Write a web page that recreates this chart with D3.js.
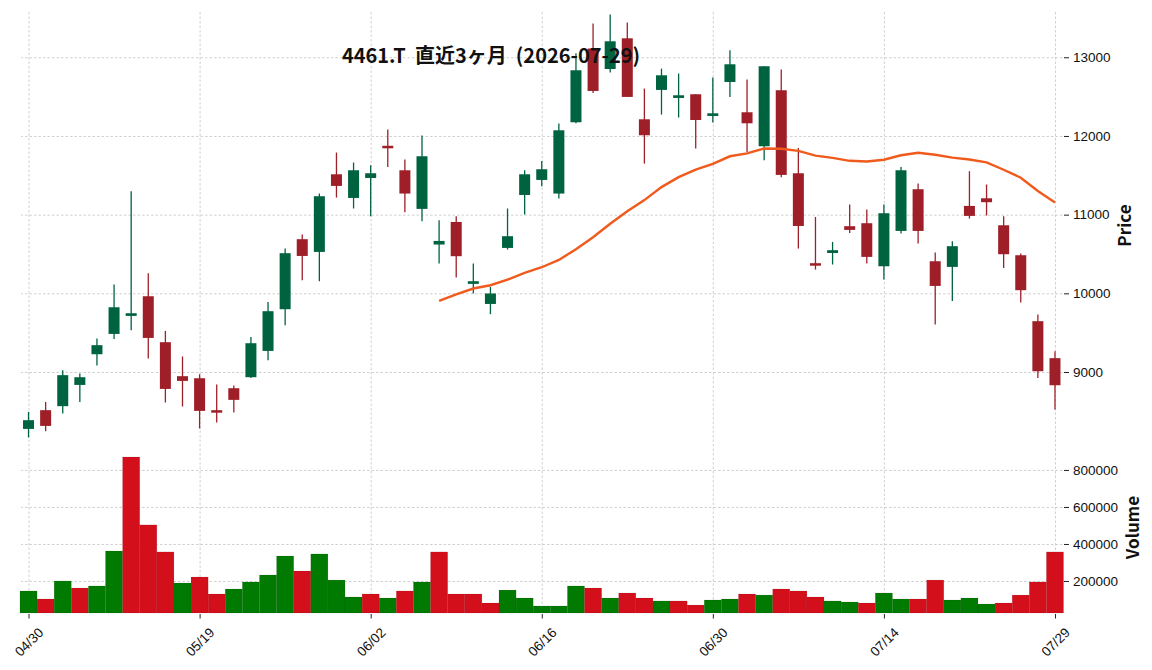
<!DOCTYPE html>
<html>
<head>
<meta charset="utf-8">
<script src="https://cdn.jsdelivr.net/npm/d3@7"></script>
<style>
  body { margin: 0; background: #fff; }
  svg { font-family: "Noto Sans CJK JP", "Noto Sans", sans-serif; }
  .grid line { stroke: #c4c4c4; stroke-width: 0.8; stroke-dasharray: 2.5,2; }
  .grid path { display: none; }
  .axis path { display: none; }
  .axis line { stroke: #222; stroke-width: 1; }
  .axis text { font-size: 13.5px; fill: #111; }
  .label { font-size: 17px; font-weight: bold; fill: #111; }
</style>
</head>
<body>
<svg id="chart" width="1152" height="670"></svg>
<script>
var title = "4461.T  直近3ヶ月  (2026-07-29)";

var dates = ["04/30","05/01","05/07","05/08","05/11","05/12","05/13","05/14","05/15","05/18",
  "05/19","05/20","05/21","05/22","05/25","05/26","05/27","05/28","05/29","06/01",
  "06/02","06/03","06/04","06/05","06/08","06/09","06/10","06/11","06/12","06/15",
  "06/16","06/17","06/18","06/19","06/22","06/23","06/24","06/25","06/26","06/29",
  "06/30","07/01","07/02","07/03","07/06","07/07","07/08","07/09","07/10","07/13",
  "07/14","07/15","07/16","07/17","07/21","07/22","07/23","07/24","07/27","07/28",
  "07/29"];

var opens = [8277,8515,8566,8836,9226,9484,9713,9963,9379,8947,
  8921,8515,8794,8934,9268,9798,10688,10526,11513,11212,
  11466,11875,11564,11073,10620,10907,10120,9865,10577,11250,
  11441,11268,12174,13111,12851,13241,12212,12585,12483,12530,
  12254,12686,12301,11869,12581,11526,10383,10513,10853,10891,
  10344,10793,11323,10408,10336,11111,11208,10865,10484,9646,
  9176];
var highs = [8493,8620,9023,8981,9426,10112,11297,10256,9522,9197,
  8972,8841,8829,9446,9891,10569,10747,11268,11789,11662,
  11628,12081,11700,12005,10929,10980,10379,10081,11078,11564,
  11682,12158,13051,13428,13543,13441,12602,12856,12793,12530,
  12742,13089,12717,12886,12844,11848,10971,10653,11128,11065,
  11128,11606,11395,10519,10662,11552,11383,10980,10506,9731,
  9265];
var lows = [8168,8248,8473,8620,9083,9421,9531,9172,8613,8562,
  8282,8358,8486,8925,9150,9595,10167,10154,11217,11078,
  10980,11606,11031,10916,10379,10201,9998,9735,10557,11001,
  11361,11205,12161,12546,12806,12496,11649,12272,12234,11840,
  12170,12496,11797,11691,11475,10569,10302,10366,10768,10379,
  10175,10760,10633,9604,9904,10951,10989,10323,9883,8925,
  8524];
var closes = [8388,8315,8960,8934,9341,9823,9747,9433,8785,8887,
  8506,8493,8646,9366,9773,10510,10475,11234,11365,11564,
  11526,11860,11268,11742,10666,10472,10154,9998,10726,11513,
  11577,12072,12835,12572,13203,12496,12009,12771,12517,12203,
  12288,12911,12161,12886,11505,10856,10357,10548,10806,10463,
  11018,11564,10793,10094,10599,10984,11158,10497,10040,9010,
  8832];
var volumes = [146000,102700,200000,162000,173000,362000,870000,503000,357000,189000,
  221600,129700,156700,194600,232400,335000,254000,346000,205000,113500,
  129700,108100,146000,194600,357000,129700,129700,81000,151000,108100,
  64900,64900,173000,162000,108100,135000,108100,92000,92000,70000,
  97300,102700,129700,124000,156700,146000,113500,92000,86500,81000,
  135000,102700,102700,205000,97300,108100,75700,81000,124000,194600,
  357000];

var maWindow = 25;
var xTickIdx = [0, 10, 20, 30, 40, 50, 60];
var priceTicks = [9000, 10000, 11000, 12000, 13000];
var volumeTicks = [200000, 400000, 600000, 800000];

var upColor = "#006340", downColor = "#9f1f28";
var volUp = "#007a00", volDown = "#d40f1c";
var maColor = "#f05a1c";

var left = 21, right = 1062.5;
var priceTop = 11, priceBottom = 440;
var volTop = 442, volBottom = 613;

var svg = d3.select("#chart");

var x = d3.scaleLinear().domain([-0.44, dates.length - 1 + 0.44]).range([left, right]);
var yPrice = d3.scaleLinear().domain([8136, 13588]).range([priceBottom, priceTop]);
var yVol = d3.scaleLinear().domain([27000, 951000]).range([volBottom, volTop]);

var data = dates.map(function(d, i) {
  return {i: i, date: d, o: opens[i], h: highs[i], l: lows[i], c: closes[i], v: volumes[i]};
});

// grid lines
svg.append("g").attr("class", "grid")
    .attr("transform", `translate(0, ${volBottom})`)
    .call(d3.axisBottom(x).tickValues(xTickIdx).tickSize(-(volBottom - priceTop)).tickFormat(""));
svg.append("g").attr("class", "grid")
    .attr("transform", `translate(${right}, 0)`)
    .call(d3.axisLeft(yPrice).tickValues(priceTicks).tickSize(right - left).tickFormat(""));
svg.append("g").attr("class", "grid")
    .attr("transform", `translate(${right}, 0)`)
    .call(d3.axisLeft(yVol).tickValues(volumeTicks).tickSize(right - left).tickFormat(""));

// volume bars, coloured by change from previous close
var step = x(1) - x(0);
svg.append("g").selectAll("rect")
    .data(data)
    .enter().append("rect")
        .attr("x", function(d) { return x(d.i) - step / 2; })
        .attr("width", step)
        .attr("y", function(d) { return yVol(d.v); })
        .attr("height", function(d) { return volBottom - yVol(d.v); })
        .attr("fill", function(d) {
          var prev = d.i > 0 ? closes[d.i - 1] : d.o;
          return d.c >= prev ? volUp : volDown;
        })
        .attr("stroke", "rgba(0,0,0,0.12)")
        .attr("stroke-width", 0.6);

// candles
var bodyW = 11;
var candle = svg.append("g").selectAll("g")
    .data(data)
    .enter().append("g");
candle.append("line")
    .attr("x1", function(d) { return x(d.i); })
    .attr("x2", function(d) { return x(d.i); })
    .attr("y1", function(d) { return yPrice(d.h); })
    .attr("y2", function(d) { return yPrice(d.l); })
    .attr("stroke", function(d) { return d.c >= d.o ? upColor : downColor; })
    .attr("stroke-width", 1.3);
candle.append("rect")
    .attr("x", function(d) { return x(d.i) - bodyW / 2; })
    .attr("width", bodyW)
    .attr("y", function(d) { return yPrice(Math.max(d.o, d.c)); })
    .attr("height", function(d) { return Math.max(2.5, Math.abs(yPrice(d.o) - yPrice(d.c))); })
    .attr("fill", function(d) { return d.c >= d.o ? upColor : downColor; });

// moving average of closes
var ma = data.slice(maWindow - 1).map(function(d) {
  return {i: d.i, v: d3.mean(closes.slice(d.i - maWindow + 1, d.i + 1))};
});
svg.append("path")
    .datum(ma)
    .attr("fill", "none")
    .attr("stroke", maColor)
    .attr("stroke-width", 2.4)
    .attr("d", d3.line().x(function(d) { return x(d.i); }).y(function(d) { return yPrice(d.v); }));

// axes
svg.append("g").attr("class", "axis")
    .attr("transform", `translate(${right + 1.5}, 0)`)
    .call(d3.axisRight(yPrice).tickValues(priceTicks).tickSize(5).tickPadding(4).tickFormat(d3.format("d")));
svg.append("g").attr("class", "axis")
    .attr("transform", `translate(${right + 1.5}, 0)`)
    .call(d3.axisRight(yVol).tickValues(volumeTicks).tickSize(5).tickPadding(4).tickFormat(d3.format("d")));

var xAxis = svg.append("g").attr("class", "axis")
    .attr("transform", `translate(0, ${volBottom + 1})`)
    .call(d3.axisBottom(x).tickValues(xTickIdx).tickSize(4.5).tickFormat(function(i) { return dates[i]; }));
xAxis.selectAll("text")
    .attr("y", 0)
    .attr("dy", "0.35em")
    .attr("text-anchor", "middle")
    .attr("transform", "translate(0, 28) rotate(-45)");

// labels
svg.append("text")
    .attr("class", "label")
    .attr("transform", `translate(1131, ${(priceTop + priceBottom) / 2}) rotate(-90)`)
    .attr("text-anchor", "middle")
    .text("Price");
svg.append("text")
    .attr("class", "label")
    .attr("transform", `translate(1139, ${(volTop + volBottom) / 2}) rotate(-90)`)
    .attr("text-anchor", "middle")
    .text("Volume");

svg.append("text")
    .attr("x", 491)
    .attr("y", 63)
    .attr("text-anchor", "middle")
    .style("font-size", "20px")
    .style("font-weight", "bold")
    .style("white-space", "pre")
    .attr("fill", "#111")
    .text(title);
</script>
</body>
</html>
